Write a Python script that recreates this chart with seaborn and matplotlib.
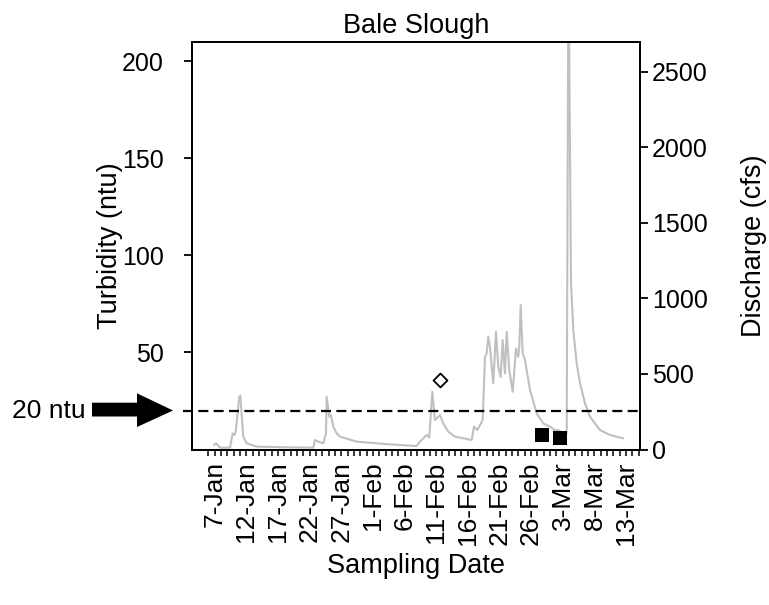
import numpy as np
import pandas as pd
import matplotlib
matplotlib.use("Agg")
import matplotlib.pyplot as plt
from matplotlib.patches import Polygon
from matplotlib.ticker import FuncFormatter
import matplotlib.dates as mdates
import seaborn as sns

# ---------------- data ----------------
START = pd.Timestamp("2006-01-06")

# discharge record (days after 6-Jan, cfs)
discharge_day = [0.90, 1.22, 1.85, 3.43, 3.85, 4.11, 4.33, 4.90, 5.06, 5.53, 6.07, 7.65,
                 12.91, 16.59, 16.86, 17.38, 18.17, 18.59, 18.70, 19.12, 19.38, 19.75,
                 20.28, 20.81, 23.44, 28.70, 32.92, 33.44, 34.50, 34.91, 35.39, 35.81,
                 36.60, 37.12, 37.91, 38.97, 41.61, 41.97, 42.50, 43.35, 43.71, 43.98,
                 44.23, 44.50, 45.02, 45.45, 45.81, 46.19, 46.51, 46.87, 47.14, 47.55,
                 48.09, 48.61, 48.97, 49.13, 49.35, 49.67, 50.03, 50.82, 51.88, 52.92,
                 53.98, 54.77, 55.29, 56.08, 56.62, 56.90, 57.30, 57.66, 58.20, 58.72,
                 59.51, 60.30, 61.88, 63.46, 65.56]
discharge_cfs = [30, 41, 12, 12, 107, 96, 118, 349, 356, 85, 41, 19,
                 14, 12, 63, 52, 41, 107, 349, 217, 228, 151,
                 107, 85, 52, 34, 23, 52, 96, 80, 382, 195,
                 228, 173, 118, 85, 63, 151, 129, 195, 614, 636,
                 746, 680, 438, 779, 548, 481, 724, 504, 779, 526,
                 382, 669, 614, 680, 956, 636, 592, 394, 239, 173,
                 151, 129, 129, 107, 109, 3300, 1101, 790, 570, 438,
                 306, 217, 129, 96, 74]

# turbidity samples
open_day = [36.65]
open_ntu = [35.9]
filled_day = [52.67, 55.56]
filled_ntu = [7.3, 5.8]

THRESHOLD_NTU = 20
label_days = list(range(1, 67, 5))          # 7-Jan ... 13-Mar
minor_days = list(range(0, 69))             # daily ticks 6-Jan ... 15-Mar

# --------------- build frames ---------------
to_date = lambda d: START + pd.to_timedelta(np.asarray(d, dtype=float), unit="D")
q = pd.DataFrame({"date": to_date(discharge_day), "cfs": discharge_cfs})
s_open = pd.DataFrame({"date": to_date(open_day), "ntu": open_ntu})
s_fill = pd.DataFrame({"date": to_date(filled_day), "ntu": filled_ntu})

# --------------- style ---------------
sns.set_theme(style="ticks")
plt.rcParams["font.family"] = ["Liberation Sans", "DejaVu Sans"]
plt.rcParams["axes.linewidth"] = 1.2
plt.rcParams["text.color"] = "black"
plt.rcParams["axes.labelcolor"] = "black"
plt.rcParams["xtick.color"] = "black"
plt.rcParams["ytick.color"] = "black"

fig = plt.figure(figsize=(7.69, 6.05), dpi=100)
ax = fig.add_axes([191.7 / 769, 1 - 449.5 / 605, (640 - 191.7) / 769, (449.5 - 41.7) / 605])
ax2 = ax.twinx()

# discharge (right axis)
sns.lineplot(data=q, x="date", y="cfs", ax=ax2, color="#c0c0c0", lw=1.5)
ax2.set_ylim(0, 2700)
ax2.set_yticks([0, 500, 1000, 1500, 2000, 2500])

# turbidity (left axis) on top
ax.set_zorder(ax2.get_zorder() + 1)
ax.patch.set_visible(False)
ax.axhline(THRESHOLD_NTU, xmin=-0.02, xmax=1, color="black", lw=1.6,
           dashes=(4.5, 2.4), clip_on=False)
sns.scatterplot(data=s_open, x="date", y="ntu", ax=ax, marker="D", s=50,
                facecolor="white", edgecolor="black", linewidth=1.3, zorder=5)
sns.scatterplot(data=s_fill, x="date", y="ntu", ax=ax, marker="s", s=108,
                color="black", linewidth=0, zorder=5)
ax.set_ylim(0, 210)
ax.set_yticks([50, 100, 150, 200])

x0 = mdates.date2num(START)
ax.set_xlim(x0 - 2.62, x0 + 68.2)
ax.set_xticks([x0 + d for d in label_days])
ax.set_xticks([x0 + d for d in minor_days], minor=True)
ax.xaxis.set_major_formatter(FuncFormatter(
    lambda v, p: f"{mdates.num2date(v).day}-{mdates.num2date(v).strftime('%b')}"))

for a in (ax, ax2):
    for sp in a.spines.values():
        sp.set_visible(True)
        sp.set_color("black")
        sp.set_linewidth(1.3)

ax.tick_params(axis="x", which="major", length=4.5, width=1.1, pad=4, labelsize=19,
               labelrotation=90, colors="black")
ax.tick_params(axis="x", which="minor", length=4.5, width=1.1, direction="out",
               colors="black")
ax.tick_params(axis="y", length=6, width=1.3, pad=14, labelsize=18, colors="black")
ax2.tick_params(axis="y", length=6, width=1.3, pad=2.5, labelsize=18, colors="black")
ax2.tick_params(axis="x", length=0)

ax.set_xlabel("Sampling Date", fontsize=19.5)
ax.set_ylabel("Turbidity (ntu)", fontsize=19.5)
ax2.set_ylabel("Discharge (cfs)", fontsize=19.5)
ax.xaxis.set_label_coords(0.5, -0.285)
ax.xaxis.label.set_verticalalignment("center")
ax.yaxis.set_label_coords(-0.182, 0.5)
ax.yaxis.label.set_verticalalignment("center")
ax2.yaxis.set_label_coords(1.254, 0.5)
ax2.yaxis.label.set_verticalalignment("center")
ax.set_title("Bale Slough", fontsize=19.5, pad=6, color="black")

# threshold annotation: text + block arrow
fig.text(12 / 769, 1 - 411 / 605, "20 ntu", fontsize=19, ha="left", va="center")
arrow_px = [(92, 402.7), (137, 402.7), (137, 393.3), (173, 410.5),
            (137, 427.0), (137, 416.5), (92, 416.5)]
fig.patches.append(Polygon([(x / 769, 1 - y / 605) for x, y in arrow_px],
                           closed=True, transform=fig.transFigure,
                           facecolor="black", edgecolor="none"))

fig.savefig("out.png", dpi=100)
